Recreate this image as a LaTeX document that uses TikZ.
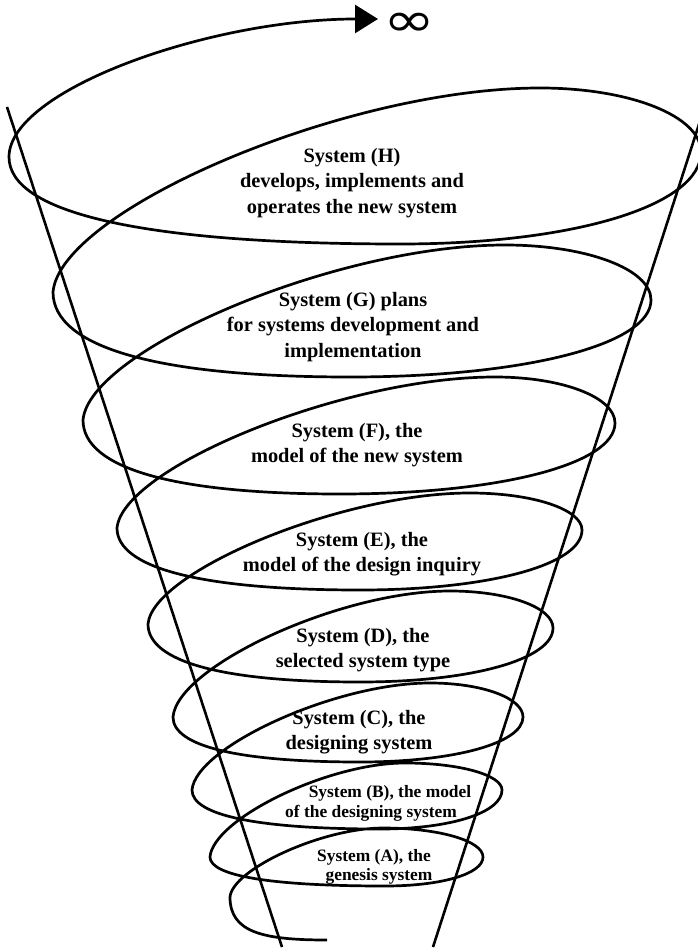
\documentclass[tikz,border=0pt]{standalone}
\usepackage{fontspec}
\setmainfont{Liberation Serif}
\newfontfamily\symbfont{DejaVu Sans}[FakeStretch=1.3]
\usetikzlibrary{arrows.meta}
\begin{document}
\begin{tikzpicture}[x=1pt,y=-1pt,
  coil/.style={line width=2.7pt, line join=round},
  coneline/.style={line width=2.6pt},
  lvltext/.style={font=\fontsize{20.4}{25.5}\selectfont\bfseries, align=center, inner sep=0pt},
  lvlsmall/.style={font=\fontsize{17.4}{20}\selectfont\bfseries, inner sep=0pt},
  infsign/.style={font=\symbfont\fontsize{48}{48}\selectfont, inner sep=0pt,
    text height=28pt, text depth=0pt, anchor=base}]
\useasboundingbox (0,0) rectangle (697,949);
\fill[white] (0,0) rectangle (697,949);
% the two generating lines of the cone
\coordinate (coneLtop) at (7,107);
\coordinate (coneLbot) at (282,947);
\coordinate (coneRtop) at (702,115);
\coordinate (coneRbot) at (433,947);
\draw[coneline] (coneLtop) -- (coneLbot);
\draw[coneline] (coneRtop) -- (coneRbot);
% the widening spiral, from its lower end up to infinity, one turn per line
\draw[coil, -{Triangle[length=23pt,width=28pt]}]
 (327,940) .. controls (262,940) and (230,932) .. (230,897)
 .. controls (232.3,869.4) and (321.8,828) .. (383,828) .. controls (439,828) and (483,840.8) .. (483,857) .. controls (483,873.8) and (441.8,886) .. (385,886) .. controls (271.3,886) and (210,875.9) .. (210,857)
 .. controls (212.9,819.4) and (327,763) .. (405,763) .. controls (459.3,763) and (502,774.9) .. (502,790) .. controls (502,812.6) and (450.8,829) .. (380,829) .. controls (257.8,829) and (192,815.4) .. (192,790)
 .. controls (195.6,747.2) and (334.8,683) .. (430,683) .. controls (482.1,683) and (523,698) .. (523,717) .. controls (523,743.1) and (454.5,762) .. (360,762) .. controls (238.4,762) and (173,746.3) .. (173,717)
 .. controls (177.2,666.6) and (339.2,591) .. (450,591) .. controls (507.7,591) and (553,607.3) .. (553,628) .. controls (553,659.3) and (471.9,682) .. (360,682) .. controls (222.2,682) and (148,661.7) .. (148,624)
 .. controls (152.8,571.6) and (341.2,493) .. (470,493) .. controls (532.7,493) and (582,509.3) .. (582,530) .. controls (582,564.8) and (488.8,590) .. (360,590) .. controls (202,590) and (117,568.3) .. (117,528)
 .. controls (122.7,467.6) and (343.8,377) .. (495,377) .. controls (562.2,377) and (615,397.2) .. (615,423) .. controls (615,464.2) and (499.5,494) .. (340,494) .. controls (173,494) and (83,468.1) .. (83,420)
 .. controls (89.3,350) and (336.2,245) .. (505,245) .. controls (586.8,245) and (651,269.2) .. (651,300) .. controls (651,344.7) and (524.6,377) .. (350,377) .. controls (157,377) and (53,347.3) .. (53,292)
 .. controls (60.3,210.4) and (345.2,88) .. (540,88) .. controls (630.2,88) and (701,116.2) .. (701,152) .. controls (701,205.4) and (574.6,244) .. (400,244) .. controls (146,244) and (9,213.6) .. (9,157)
 .. controls (9,90) and (210,19) .. (378,19);
% the systems, from the outermost turn inwards
\node[lvltext] (sysH) at (352,183) {System (H)\\develops, implements and\\operates the new system};
\node[lvltext] (sysG) at (353,327) {System (G) plans\\for systems development and\\implementation};
\node[lvltext] (sysF) at (357,445) {System (F), the\\model of the new system};
\node[lvltext] (sysE) at (362,554) {System (E), the\\model of the design inquiry};
\node[lvltext] (sysD) at (363,650) {System (D), the\\selected system type};
\node[lvltext] (sysC) at (359,732) {System (C), the\\designing system};
\node[lvlsmall] (sysBa) at (390,793) {System (B), the model};
\node[lvlsmall] (sysBb) at (371,813) {of the designing system};
\node[lvlsmall] (sysAa) at (374,857) {System (A), the};
\node[lvlsmall] (sysAb) at (379,876) {genesis system};
\node[infsign] (infsym) at (409,37) {∞};
\end{tikzpicture}
\end{document}
